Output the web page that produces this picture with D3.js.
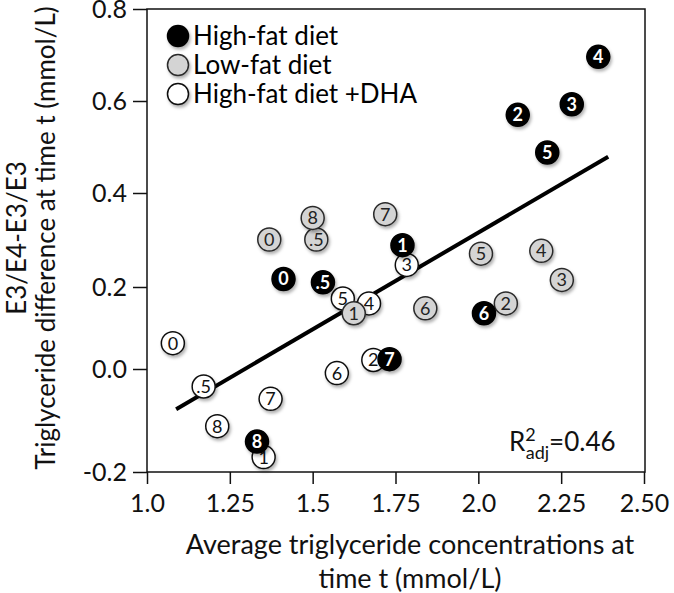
<!DOCTYPE html>
<html><head><meta charset="utf-8">
<script src="https://cdn.jsdelivr.net/npm/d3@7"></script>
<style>
html,body{margin:0;padding:0;background:#fff;}
svg text{font-family:Lato,"Open Sans",sans-serif;}
</style></head>
<body><svg id="c" width="674" height="593"></svg>
<script>
// ---- data ----
const pointLabels = ["0", ".5", "1", "2", "3", "4", "5", "6", "7", "8"];
const highFatX = [1.412, 1.531, 1.771, 2.119, 2.282, 2.362, 2.208, 2.017, 1.732, 1.332];
const highFatY = [0.217, 0.210, 0.289, 0.570, 0.593, 0.696, 0.488, 0.136, 0.024, -0.141];
const lowFatX  = [1.369, 1.511, 1.624, 2.083, 2.252, 2.190, 2.008, 1.840, 1.719, 1.500];
const lowFatY  = [0.301, 0.301, 0.136, 0.160, 0.215, 0.277, 0.271, 0.148, 0.355, 0.347];
const dhaX     = [1.078, 1.171, 1.352, 1.683, 1.784, 1.670, 1.591, 1.573, 1.373, 1.212];
const dhaY     = [0.063, -0.034, -0.171, 0.022, 0.247, 0.160, 0.172, -0.008, -0.058, -0.111];
const fitX = [1.088, 2.392];
const fitY = [-0.078, 0.479];
const xTicks = [1.0, 1.25, 1.5, 1.75, 2.0, 2.25, 2.5];
const xTickLabels = ["1.0", "1.25", "1.5", "1.75", "2.0", "2.25", "2.50"];
const yTicks = [-0.2, 0.0, 0.2, 0.4, 0.6, 0.8];
const yTickLabels = ["-0.2", "0.0", "0.2", "0.4", "0.6", "0.8"];
const seriesNames = ["High-fat diet", "Low-fat diet", "High-fat diet +DHA"];
const rSquared = "0.46";

// ---- chart ----
const svg = d3.select("#c");
const L = 147, R = 645, T = 9, B = 472;
const x = d3.scaleLinear().domain([1.0, 2.5]).range([L, 644]);
const y = d3.scaleLinear().domain(yTicks).range([472, 369, 287, 193, 101, 9]);

const defs = svg.append("defs");
const f = defs.append("filter").attr("id", "sh").attr("x", "-50%").attr("y", "-50%").attr("width", "200%").attr("height", "200%");
f.append("feDropShadow").attr("dx", 1.5).attr("dy", 2.5).attr("stdDeviation", 1.6)
  .attr("flood-color", "#000").attr("flood-opacity", 0.3);

// plot frame
svg.append("rect").attr("x", L).attr("y", T).attr("width", R - L).attr("height", B - T)
  .attr("fill", "none").attr("stroke", "#111").attr("stroke-width", 1.5);

// axes
const xa = svg.append("g").attr("transform", `translate(0,${B})`)
  .call(d3.axisBottom(x).tickValues(xTicks).tickSize(12).tickPadding(10)
    .tickFormat((d, i) => xTickLabels[i]));
const ya = svg.append("g").attr("transform", `translate(${L},0)`)
  .call(d3.axisLeft(y).tickValues(yTicks).tickSize(14).tickPadding(6)
    .tickFormat((d, i) => yTickLabels[i]));
[xa, ya].forEach(a => {
  a.select(".domain").remove();
  a.selectAll(".tick line").attr("stroke", "#111").attr("stroke-width", 1.5);
  a.selectAll(".tick text").attr("fill", "#111").style("font-size", "25px").style("font-family", "Lato");
});

// regression line
svg.append("line")
  .attr("x1", x(fitX[0])).attr("y1", y(fitY[0]))
  .attr("x2", x(fitX[1])).attr("y2", y(fitY[1]))
  .attr("stroke", "#000").attr("stroke-width", 4);

// points
const styles = [
  {fill: "#000", stroke: "#000", text: "#fff"},
  {fill: "#d4d4d4", stroke: "#2a2a2a", text: "#222"},
  {fill: "#fff", stroke: "#111", text: "#111"}
];
const series = [
  {xs: dhaX, ys: dhaY, s: styles[2], key: "w"},
  {xs: lowFatX, ys: lowFatY, s: styles[1], key: "g"},
  {xs: highFatX, ys: highFatY, s: styles[0], key: "b"}
];
series.forEach(se => {
  const g = svg.append("g").attr("class", "series-" + se.key);
  se.xs.forEach((xv, i) => {
    const m = g.append("g").attr("class", "pt pt-" + se.key + i)
      .attr("transform", `translate(${x(xv)},${y(se.ys[i])})`);
    m.append("circle").attr("r", 11.5).attr("fill", se.s.fill)
      .attr("stroke", se.s.stroke).attr("stroke-width", 1.5).attr("filter", "url(#sh)");
    m.append("text").text(pointLabels[i]).attr("text-anchor", "middle")
      .attr("dy", "0.36em").attr("fill", se.s.text)
      .style("font-size", "18px").style("font-weight", se.key === "b" ? "700" : "400");
  });
});
svg.select(".pt-w2").raise();

// legend
const legend = svg.append("g");
[styles[0], styles[1], styles[2]].forEach((s, i) => {
  const cy = 36 + i * 29;
  legend.append("circle").attr("cx", 178).attr("cy", cy).attr("r", 10.5)
    .attr("fill", s.fill).attr("stroke", s.stroke).attr("stroke-width", 1.5).attr("filter", "url(#sh)");
  legend.append("text").attr("x", 193).attr("y", cy).attr("dy", "0.36em")
    .text(seriesNames[i]).attr("fill", "#000").style("font-size", "26px");
});

// R2 annotation
const rt = svg.append("text").attr("x", 509).attr("y", 451).attr("fill", "#111").style("font-size", "26px");
rt.append("tspan").text("R");
rt.append("tspan").text("2").attr("dy", -10).style("font-size", "18px");
rt.append("tspan").text("adj").attr("dx", -10).attr("dy", 18).style("font-size", "18px");
rt.append("tspan").text("=" + rSquared).attr("dy", -8);

// axis titles
svg.append("text").attr("x", 410).attr("y", 554).attr("text-anchor", "middle")
  .style("font-size", "27px").attr("fill", "#111").text("Average triglyceride concentrations at");
svg.append("text").attr("x", 410).attr("y", 588).attr("text-anchor", "middle")
  .style("font-size", "27px").attr("fill", "#111").text("time t (mmol/L)");
svg.append("text").attr("transform", "translate(26,238) rotate(-90)").attr("text-anchor", "middle")
  .style("font-size", "26px").attr("fill", "#111").text("E3/E4-E3/E3");
svg.append("text").attr("transform", "translate(55,238) rotate(-90)").attr("text-anchor", "middle")
  .style("font-size", "26px").attr("fill", "#111").text("Triglyceride difference at time t (mmol/L)");
</script></body></html>
